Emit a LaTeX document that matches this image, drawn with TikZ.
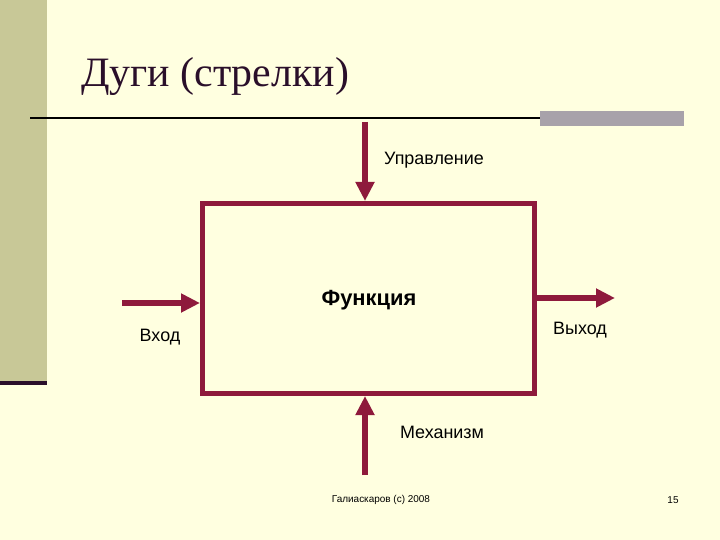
\documentclass[tikz,border=0pt]{standalone}
\usepackage{fontspec}
\setmainfont{Liberation Sans}
\newfontfamily\titlefont{Liberation Serif}
\usetikzlibrary{arrows.meta}
\definecolor{bgyellow}{HTML}{FFFFE0}
\definecolor{sidekhaki}{HTML}{C8C897}
\definecolor{darkplum}{HTML}{2A0F2A}
\definecolor{barGray}{HTML}{A8A2AA}
\definecolor{idefred}{HTML}{8E1A3C}
\tikzset{
  arc/.style={draw=idefred, line width=6bp, -{Triangle[length=19bp,width=18bp]}},
  func/.style={draw=idefred, line width=5bp, minimum width=332bp, minimum height=190bp, inner sep=0pt},
  lbl/.style={font=\fontsize{18}{20}\selectfont, text=black, inner sep=0pt},
  foot/.style={font=\fontsize{10}{12}\selectfont, text=black, inner sep=0pt}
}
\begin{document}
\begin{tikzpicture}[x=1bp,y=-1bp]
\useasboundingbox (0,0) rectangle (720,540);
\fill[bgyellow] (0,0) rectangle (720,540);
\fill[sidekhaki] (0,0) rectangle (47,381);
\fill[darkplum] (0,381) rectangle (47,385);
\draw[black, line width=2bp] (30,118) -- (540,118);
\fill[barGray] (540,111) rectangle (684,126);
\node[anchor=base west, inner sep=0pt, font=\titlefont\fontsize{42}{46}\selectfont, text=darkplum] (title) at (81,87) {Дуги (стрелки)};
\node[func] (box) at (368.5,298.5) {};
\node[font=\bfseries\fontsize{22}{26}\selectfont, inner sep=0pt] (fname) at (369,300) {Функция};
\coordinate (ctop) at (365,122);
\coordinate (cbot) at (365,475);
\coordinate (cin) at (122,303);
\coordinate (cout) at (615,298);
\draw[arc] (ctop) -- (ctop |- box.north);
\draw[arc] (cbot) -- (cbot |- box.south);
\draw[arc] (cin) -- (cin -| box.west);
\draw[arc] (box.east |- cout) -- (cout);
\node[lbl] (lctl) at (434,160) {Управление};
\node[lbl] (lmech) at (442,432) {Механизм};
\node[lbl] (lin) at (160,337) {Вход};
\node[lbl] (lout) at (580,330) {Выход};
\node[foot] (author) at (381,500) {Галиаскаров (с) 2008};
\node[foot] (page) at (673,500) {15};
\end{tikzpicture}
\end{document}
